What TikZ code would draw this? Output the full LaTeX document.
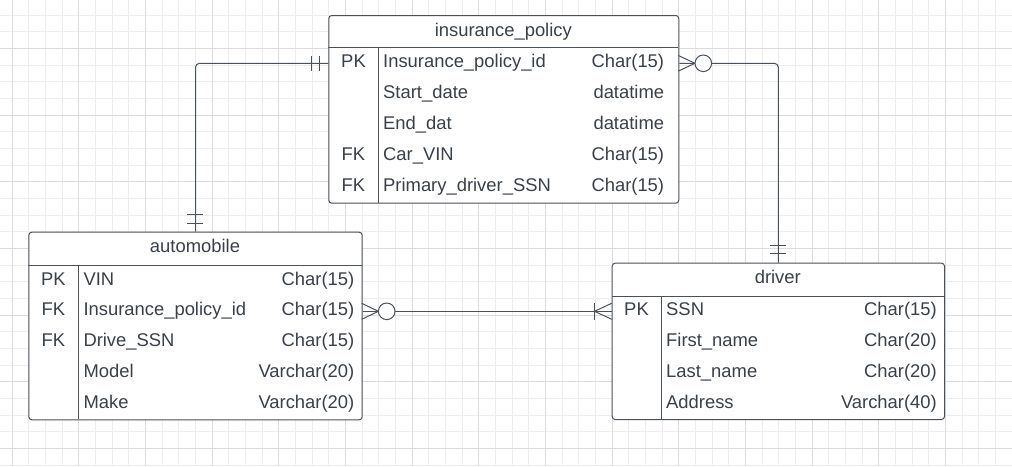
\documentclass[tikz,border=0pt]{standalone}
\usepackage{fontspec}
\setmainfont{Liberation Sans}
\usetikzlibrary{positioning}
\definecolor{gridminor}{HTML}{EDEDED}
\definecolor{gridmajor}{HTML}{DCDCDC}
\definecolor{erline}{HTML}{4A515A}
\definecolor{ertext}{HTML}{3A4048}
\tikzset{
  erbox/.style={draw=erline, line width=1pt, rounded corners=3pt, fill=white,
    anchor=north west, inner sep=0pt},
  erfont/.style={font=\fontsize{18.4}{21}\selectfont, text=ertext, inner sep=0pt},
  keytext/.style={erfont, anchor=base},
  nametext/.style={erfont, anchor=base west},
  typetext/.style={erfont, anchor=base east},
  titletext/.style={erfont, anchor=base},
  rule/.style={draw=erline, line width=1pt},
  link/.style={draw=erline, line width=1pt, rounded corners=4pt},
  ring/.style={draw=erline, line width=1pt, fill=white}
}
\begin{document}
\begin{tikzpicture}[x=1pt,y=-1pt]
\useasboundingbox (0,0) rectangle (1012,466);
% background grid
\foreach \i in {-1,...,60} \draw [gridminor, line width=0.8pt] ({12+16.6667*\i},0) -- ++(0,466) ;
\foreach \j in {1,...,28} \draw [gridminor, line width=0.8pt] (0,{-1.7+16.6667*\j}) -- ++(1012,0) ;
\foreach \i in {0,...,15} \draw [gridmajor, line width=0.8pt] ({12+66.6667*\i},0) -- ++(0,466) ;
\foreach \j in {0,...,6} \draw [gridmajor, line width=0.8pt] (0,{48.3+66.6667*\j}) -- ++(1012,0) ;
% tables
\node [erbox, minimum width=350pt, minimum height=187.7pt] (ins) at (328.3,15) {} ;
\node [erbox, minimum width=333.4pt, minimum height=187.6pt] (auto) at (28.3,231.7) {} ;
\node [erbox, minimum width=332.3pt, minimum height=156.3pt] (drv) at (611.7,262.7) {} ;
\draw [rule] (328.3,47.7) -- (678.3,47.7) (378.7,47.7) -- (378.7,202.7) ;
\draw [rule] (28.3,265) -- (361.7,265) (78.3,265) -- (78.3,419.3) ;
\draw [rule] (611.7,296) -- (944,296) (661.3,296) -- (661.3,419) ;
\node [titletext] (ins-title) at (503.3,36.6) {insurance\_policy} ;
\node [titletext] (auto-title) at (195,252.6) {automobile} ;
\node [titletext] (drv-title) at (777.8,283.4) {driver} ;
\foreach \fkey/\fname/\ftype [count=\i] in {PK/Insurance\_policy\_id/Char(15),
  /Start\_date/datatime, /End\_dat/datatime, FK/Car\_VIN/Char(15),
  FK/Primary\_driver\_SSN/Char(15)} {
  \node [keytext] (ins-k\i) at (353.5,{47.7+31*(\i-1)+19.8}) {\fkey} ;
  \node [nametext] (ins-n\i) at (383,{47.7+31*(\i-1)+19.8}) {\fname} ;
  \node [typetext] (ins-t\i) at (664.3,{47.7+31*(\i-1)+19.8}) {\ftype} ;
}
\foreach \fkey/\fname/\ftype [count=\i] in {PK/VIN/Char(15),
  FK/Insurance\_policy\_id/Char(15), FK/Drive\_SSN/Char(15),
  /Model/Varchar(20), /Make/Varchar(20)} {
  \node [keytext] (auto-k\i) at (53.3,{265+30.9*(\i-1)+20}) {\fkey} ;
  \node [nametext] (auto-n\i) at (83.3,{265+30.9*(\i-1)+20}) {\fname} ;
  \node [typetext] (auto-t\i) at (354.5,{265+30.9*(\i-1)+20}) {\ftype} ;
}
\foreach \fkey/\fname/\ftype [count=\i] in {PK/SSN/Char(15),
  /First\_name/Char(20), /Last\_name/Char(20), /Address/Varchar(40)} {
  \node [keytext] (drv-k\i) at (636.5,{296+30.8*(\i-1)+19.6}) {\fkey} ;
  \node [nametext] (drv-n\i) at (666,{296+30.8*(\i-1)+19.6}) {\fname} ;
  \node [typetext] (drv-t\i) at (937,{296+30.8*(\i-1)+19.6}) {\ftype} ;
}
% relationships
\coordinate (insrow) at (0,63.3) ;
\coordinate (autorow) at (0,311.3) ;
\draw [link] (ins.west |- insrow) -| (auto.north) ;
\draw [link] (ins.east |- insrow) -| (drv.north) ;
\draw [link] (auto.east |- autorow) -- (drv.west |- autorow) ;
% one and only one
\draw [rule] (311.7,55.8) -- (311.7,70.8) (319.3,55.8) -- (319.3,70.8) ;
\draw [rule] (187,214) -- (203,214) (187,223.3) -- (203,223.3) ;
\draw [rule] (770,245) -- (786,245) (770,253.3) -- (786,253.3) ;
% zero or many
\draw [rule] (678.3,55.5) -- (695,63.3) -- (678.3,71.1) ;
\draw [ring] (703.3,63.3) circle (8.3) ;
\draw [rule] (361.7,303.3) -- (378.4,311.3) -- (361.7,319.3) ;
\draw [ring] (386.7,311.3) circle (8.3) ;
% one or many
\draw [rule] (611.7,303.3) -- (594.5,311.3) -- (611.7,319.3) ;
\draw [rule] (594.5,303.3) -- (594.5,319.5) ;
\end{tikzpicture}
\end{document}
